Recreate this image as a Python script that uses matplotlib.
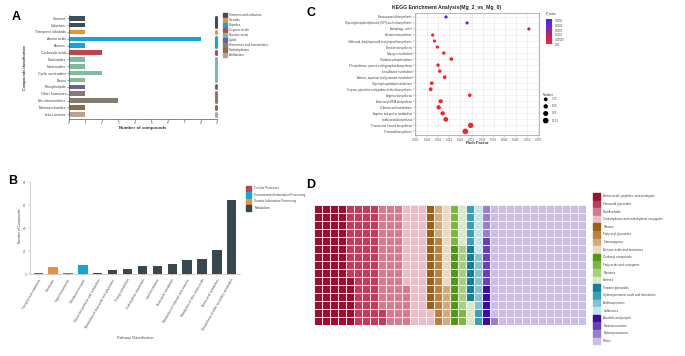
import matplotlib
matplotlib.use("Agg")
import matplotlib.pyplot as plt
import numpy as np
from matplotlib.colors import LinearSegmentedColormap, ListedColormap, Normalize
from matplotlib.patches import Rectangle
import matplotlib.cm as cm

plt.rcParams['font.family'] = ['Liberation Sans', 'DejaVu Sans']

# ---------------- DATA ----------------
# Panel A
a_labels = ["Vitamins", "Cofactors", "Triterpene alkaloids", "Amino acids", "Amines",
            "Carboxylic acids", "Nucleotides", "Nucleosides", "Cyclic nucleotides", "Bases",
            "Phospholipids", "Other hormones", "Neurotransmitters", "Monosaccharides", "beta-Lactams"]
a_values = [1, 1, 1, 8, 1, 2, 1, 1, 2, 1, 1, 1, 3, 1, 1]
a_classes = ["Vitamins and cofactors", "Vitamins and cofactors", "Steroids", "Peptides", "Peptides",
             "Organic acids", "Nucleic acids", "Nucleic acids", "Nucleic acids", "Nucleic acids",
             "Lipids", "Hormones and transmitters", "Hormones and transmitters", "Carbohydrates", "Antibiotics"]
a_legend = ["Vitamins and cofactors", "Steroids", "Peptides", "Organic acids", "Nucleic acids",
            "Lipids", "Hormones and transmitters", "Carbohydrates", "Antibiotics"]
a_colors = ["#3d4f57", "#e8913a", "#12a6dc", "#c0444a", "#7fbc9c",
            "#6a5fa0", "#857b6e", "#8c6a4a", "#b3a596"]
a_xticks = list(range(10))

# Panel B
b_labels = ["Transport and catabolism", "Translation", "Signal transduction", "Membrane transport",
            "Glycan biosynthesis and metabolism", "Metabolism of terpenoids and polyketides",
            "Energy metabolism", "Carbohydrate metabolism", "Lipid metabolism", "Nucleotide metabolism",
            "Metabolism of cofactors and vitamins", "Metabolism of other amino acids",
            "Amino acid metabolism", "Biosynthesis of other secondary metabolites"]
b_values = [1, 6, 1, 8, 1, 4, 5, 7, 7, 9, 12, 13, 21, 64]
b_classes = ["Cellular Processes", "Genetic Information Processing", "Environmental Information Processing",
             "Environmental Information Processing"] + ["Metabolism"] * 10
b_legend = ["Cellular Processes", "Environmental Information Processing",
            "Genetic Information Processing", "Metabolism"]
b_colors = ["#c0444a", "#12a6dc", "#e8913a", "#38484f"]
b_yticks = [0, 20, 40, 60, 80]

# Panel C
c_title = "KEGG Enrichment Analysis(Mg_2_vs_Mg_0)"
c_pathways = ["Benzoxazinoid biosynthesis",
              "Glycosylphosphatidylinositol (GPI)-anchor biosynthesis",
              "Autophagy - other", "Aflatoxin biosynthesis",
              "Stilbenoid, diarylheptanoid and gingerol biosynthesis",
              "Betalain biosynthesis", "Nitrogen metabolism", "Oxidative phosphorylation",
              "Phenylalanine, tyrosine and tryptophan biosynthesis", "beta-Alanine metabolism",
              "Alanine, aspartate and glutamate metabolism", "Glycerophospholipid metabolism",
              "Tropane, piperidine and pyridine alkaloid biosynthesis", "Arginine biosynthesis",
              "Aminoacyl-tRNA biosynthesis", "D-Amino acid metabolism",
              "Arginine and proline metabolism", "Isoflavonoid biosynthesis",
              "Flavone and flavonol biosynthesis", "Flavonoid biosynthesis"]
c_rich = [0.0135, 0.0230, 0.0508, 0.0075, 0.0083, 0.0096, 0.0125, 0.0159, 0.0099, 0.0107,
          0.0129, 0.0071, 0.0066, 0.0242, 0.0111, 0.0102, 0.0120, 0.0134, 0.0246, 0.0222]
c_number = [1, 1, 1, 1, 1, 1, 2, 3, 2, 2, 3, 3, 4, 3, 5, 6, 6, 8, 11, 12]
c_pvalue = [0.027, 0.018, 0.009, 0.001, 0.001, 0.001, 0.0008, 0.0006, 0.0008, 0.0008,
            0.0006, 0.0006, 0.0005, 0.0005, 0.0004, 0.0003, 0.0003, 0.0002, 0.0001, 0.0001]
c_xticks = [0.000, 0.005, 0.010, 0.015, 0.020, 0.025, 0.030, 0.035, 0.040, 0.045, 0.050, 0.055]
c_cbar_ticks = [0.0, 0.005, 0.010, 0.015, 0.020, 0.025]
c_cbar_labels = ["0.00", "0.00500", "0.0100", "0.0150", "0.0200", "0.0250"]
c_size_legend = [3.75, 6.50, 9.25, 12.00]

# Panel D
d_labels = ["Amino acids, peptides, and analogues", "Flavonoid glycosides", "Not Available",
            "Carbohydrates and carbohydrate conjugates", "Flavans", "Fatty acyl glycosides",
            "1-benzopyrans", "Benzoic acids and derivatives", "Carbonyl compounds",
            "Fatty acids and conjugates", "Flavones", "Amines", "Terpene glycosides",
            "Hydroxycinnamic acids and derivatives", "Anthraquinones", "Isoflavones",
            "Alcohols and polyols", "Furanocoumarins", "Hydroxycoumarins", "Others"]
d_counts = [66, 56, 48, 42, 13, 11, 9, 10, 10, 7, 8, 8, 7, 7, 7, 6, 5, 6, 5, 179]
d_colors = ["#9b1030", "#c03c58", "#d47a8c", "#ebbcc8", "#9c6014", "#b8823e", "#d3aa7a",
            "#ecd9bf", "#4e9a16", "#7cb840", "#a8cf80", "#d8eac4", "#13819a", "#3aa0b8",
            "#80c4d0", "#c0e6ec", "#3c0ca0", "#6a40b8", "#9a80cc", "#cbbde6"]

# ---------------- FIGURE ----------------
W, H = 685, 356
fig = plt.figure(figsize=(W / 100, H / 100), dpi=100)


def ax_px(x0, y0, x1, y1):
    return fig.add_axes([x0 / W, 1 - y1 / H, (x1 - x0) / W, (y1 - y0) / H])


ov = ax_px(0, 0, W, H)
ov.set_xlim(0, W)
ov.set_ylim(H, 0)
ov.axis('off')

# panel letters
for t, (x, y) in zip("ABCD", [(16.5, 17), (12.5, 180.5), (311, 12.5), (311, 185.5)]):
    ov.text(x, y, t, fontsize=9, weight='bold', ha='center', va='center')

# ---------- Panel A ----------
axa = ax_px(69, 14.5, 217, 118.7)
cmapA = dict(zip(a_legend, a_colors))
ya = np.arange(len(a_labels))
axa.barh(ya, a_values, height=0.66, color=[cmapA[c] for c in a_classes])
axa.set_ylim(14.64, -0.55)
axa.set_xlim(0, 9)
axa.set_xticks(a_xticks)
axa.set_xticklabels([str(v) for v in a_xticks], fontsize=2.0, color='#444')
axa.set_yticks(ya)
axa.set_yticklabels(a_labels, fontsize=2.5, color='#444')
axa.tick_params(length=1.2, width=0.4, pad=0.8, color='#555')
for s in ['top', 'right']:
    axa.spines[s].set_visible(False)
for s in ['left', 'bottom']:
    axa.spines[s].set_linewidth(0.5)
    axa.spines[s].set_color('#555')
axa.set_facecolor('none')
# class strip
start = 0
for i in range(1, len(a_classes) + 1):
    if i == len(a_classes) or a_classes[i] != a_classes[start]:
        axa.plot([8.92, 8.92], [start - 0.2, i - 1 + 0.2], lw=2.2, color=cmapA[a_classes[start]],
                 solid_capstyle='round', clip_on=False)
        start = i
ov.text(143, 127.5, "Number of compounds", fontsize=3.2, weight='bold', ha='center', va='center', color='#333')
ov.text(25, 68, "Compounds classification", fontsize=2.6, weight='bold', rotation=90,
        ha='center', va='center', color='#333')
for k, (lab, col) in enumerate(zip(a_legend, a_colors)):
    yc = 15 + 5 * k
    ov.add_patch(Rectangle((223.3, yc - 2), 4, 4, color=col))
    ov.text(229, yc, lab, fontsize=2.3, va='center', color='#444')

# ---------- Panel B ----------
axb = ax_px(30, 182, 240, 274.3)
cmapB = dict(zip(b_legend, b_colors))
xb = np.arange(len(b_labels))
axb.bar(xb, b_values, width=0.63, color=[cmapB[c] for c in b_classes])
axb.set_xlim(-0.557, 13.557)
axb.set_ylim(0, 80)
axb.set_yticks(b_yticks)
axb.set_yticklabels([str(v) for v in b_yticks], fontsize=2.2, color='#666')
axb.set_xticks(xb)
axb.set_xticklabels(b_labels, rotation=60, ha='right', rotation_mode='anchor', fontsize=2.2, color='#555')
axb.tick_params(length=1.2, width=0.3, pad=1.5, color='#999')
for s in ['top', 'right']:
    axb.spines[s].set_visible(False)
for s in ['left', 'bottom']:
    axb.spines[s].set_linewidth(0.5)
    axb.spines[s].set_color('#bbb')
axb.set_facecolor('none')
ov.text(20, 226, "Number of Compounds", fontsize=2.4, rotation=90, ha='center', va='center', color='#444')
ov.text(135, 338, "Pathway Classification", fontsize=2.6, ha='center', va='center', color='#444')
for k, (lab, col) in enumerate(zip(b_legend, b_colors)):
    yc = 188.3 + 6.5 * k
    ov.add_patch(Rectangle((246, yc - 2.7), 5.5, 5.4, color=col))
    ov.text(254.5, yc, lab, fontsize=2.2, va='center', color='#444')

# ---------- Panel C ----------
axc = ax_px(415, 13.3, 539.3, 135)
cmapC = LinearSegmentedColormap.from_list("rb", ["#ff2020", "#3a2cff"])
normC = Normalize(0, 0.027)
yc_ = np.arange(len(c_pathways))
sizes = ((3.0 + 0.22 * np.array(c_number)) * 0.72) ** 2
axc.scatter(c_rich, yc_, s=sizes, c=c_pvalue, cmap=cmapC, norm=normC, edgecolors='none', zorder=3)
axc.set_ylim(19.6, -0.6)
axc.set_xlim(-0.00045, 0.0555)
axc.set_yticks(yc_)
axc.set_yticklabels(c_pathways, fontsize=2.0, color='#444')
axc.set_xticks(c_xticks)
axc.set_xticklabels(["%.3f" % v for v in c_xticks], fontsize=2.0, color='#444')
axc.tick_params(length=1.2, width=0.3, pad=1, color='#777')
axc.grid(True, color='#e6e6e6', lw=0.4, zorder=0)
axc.set_axisbelow(True)
for s in axc.spines.values():
    s.set_color('#999')
    s.set_linewidth(0.5)
ov.text(447, 7, c_title, fontsize=3.7, weight='bold', ha='center', va='center', color='#222')
ov.text(477, 143, "Rich Factor", fontsize=3.0, weight='bold', ha='center', va='center', color='#333')
# colorbar
cax = ax_px(546, 19, 552, 44.3)
cb = fig.colorbar(cm.ScalarMappable(norm=normC, cmap=cmapC), cax=cax)
cb.set_ticks(c_cbar_ticks)
cb.set_ticklabels(c_cbar_labels)
cb.ax.tick_params(labelsize=1.9, length=1, width=0.3, pad=1, colors='#444')
cb.outline.set_visible(False)
ov.text(545.5, 13.5, "P_value", fontsize=2.2, va='center', color='#333')
# size legend
ov.text(543, 95, "Number", fontsize=2.2, va='center', color='#333')
for k, v in enumerate(c_size_legend):
    yy = 99.3 + 7.1 * k
    ov.scatter([545.7], [yy], s=((3.0 + 0.22 * v) * 0.72) ** 2, color='black', edgecolors='none')
    ov.text(551.7, yy, "%.2f" % v, fontsize=2.0, va='center', color='#444')

# ---------- Panel D ----------
nrows, ncols = 15, 34
grid = np.full((nrows, ncols), -1)
idx = 0
for k, n in enumerate(d_counts):
    for j in range(n):
        col = idx // nrows
        row = nrows - 1 - idx % nrows
        grid[row, col] = k
        idx += 1
axd = ax_px(314, 205, 586, 325)
axd.pcolormesh(np.arange(ncols + 1), np.arange(nrows + 1), grid, cmap=ListedColormap(d_colors),
               vmin=-0.5, vmax=len(d_colors) - 0.5, edgecolors='#f6f2f6', linewidth=0.6)
axd.set_xlim(0, ncols)
axd.set_ylim(nrows, 0)
axd.axis('off')
for k, (lab, col) in enumerate(zip(d_labels, d_colors)):
    yc = 196.3 + 7.62 * k
    ov.add_patch(Rectangle((593, yc - 3.4), 7.3, 6.8, color=col))
    ov.text(603.3, yc, lab, fontsize=2.2, va='center', color='#444')

fig.savefig("out.png", dpi=100)
